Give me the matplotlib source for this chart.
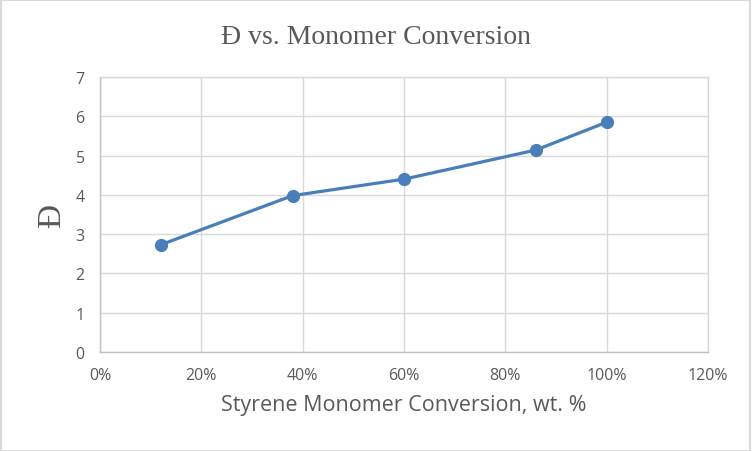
import matplotlib.pyplot as plt
from matplotlib.patches import Rectangle
from matplotlib.ticker import PercentFormatter

# data
conversion = [0.12, 0.38, 0.60, 0.86, 1.00]
dispersity = [2.73, 3.98, 4.40, 5.14, 5.85]
x_ticks = [0, 0.2, 0.4, 0.6, 0.8, 1.0, 1.2]
y_ticks = [0, 1, 2, 3, 4, 5, 6, 7]

grey_text = '#595959'
grid_col = '#d9d9d9'
axis_col = '#bfbfbf'
line_col = '#4a7ebb'

fig = plt.figure(figsize=(7.52, 4.52), dpi=100)
ax = fig.add_axes([100/752, 1 - 353/452, 608/752, 275/452])

ax.plot(conversion, dispersity, color=line_col, lw=2.3, marker='o', ms=8.5,
        markerfacecolor=line_col, markeredgecolor=line_col, zorder=3)

ax.set_xlim(0, 1.2)
ax.set_ylim(0, 7)
ax.set_xticks(x_ticks)
ax.set_yticks(y_ticks)
ax.xaxis.set_major_formatter(PercentFormatter(1.0, decimals=0))
ax.grid(True, color=grid_col, lw=1.0)
ax.set_axisbelow(True)
for s in ax.spines.values():
    s.set_color(grid_col)
    s.set_linewidth(1.0)
ax.spines['left'].set_color(axis_col)
ax.spines['bottom'].set_color(axis_col)
ax.tick_params(length=0, colors=grey_text, pad=11)
for lab in ax.get_xticklabels() + ax.get_yticklabels():
    lab.set_fontfamily('Open Sans')
    lab.set_fontsize(11.5)

ax.set_xlabel('Styrene Monomer Conversion, wt. %', fontsize=15.5,
              color=grey_text, family='Open Sans', labelpad=8)
ax.set_ylabel('Đ', fontsize=24, color=grey_text, family='Liberation Serif',
              labelpad=6)

fig.text(0.5, 1 - 37/452, 'Đ vs. Monomer Conversion', ha='center', va='center',
         fontsize=20, color=grey_text, family='Liberation Serif')

# chart border
fig.patches.append(Rectangle((0.001, 0.001), 0.997, 0.997, transform=fig.transFigure,
                             fill=False, edgecolor=grid_col, lw=1.5))

fig.savefig('out.png', dpi=100)
